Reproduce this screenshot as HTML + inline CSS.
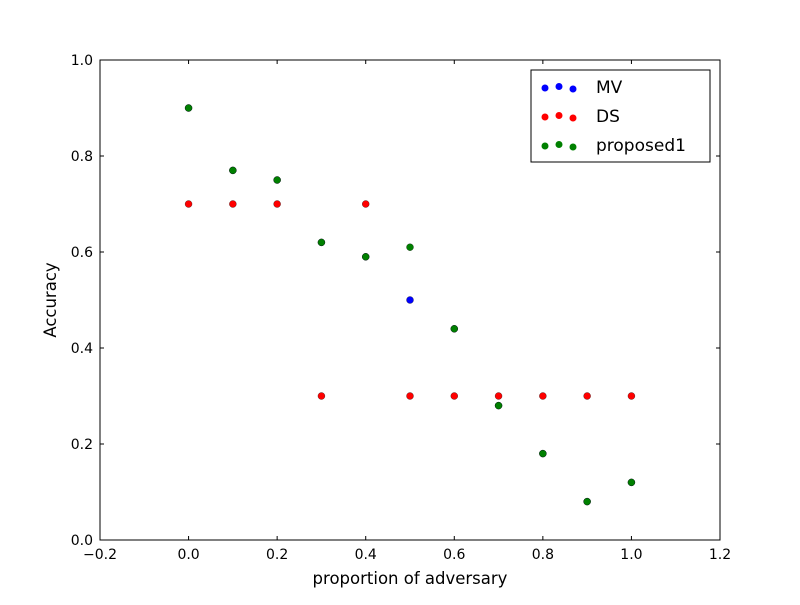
<!DOCTYPE html>
<html><head><meta charset="utf-8"><style>
body{margin:0;background:#fff}
text{font-family:"DejaVu Sans","Liberation Sans",sans-serif;fill:#000}
</style></head><body>
<svg id="chart" width="800" height="600" xmlns="http://www.w3.org/2000/svg">
<rect width="800" height="600" fill="#fff"/>
<g id="plot"></g>
</svg>
<script>
const xValues=[0,0.1,0.2,0.3,0.4,0.5,0.6,0.7,0.8,0.9,1.0];
const mvValues=[0.9,0.77,0.75,0.62,0.59,0.5,0.44,0.28,0.18,0.08,0.12];
const dsValues=[0.7,0.7,0.7,0.3,0.7,0.3,0.3,0.3,0.3,0.3,0.3];
const proposedValues=[0.9,0.77,0.75,0.62,0.59,0.61,0.44,0.28,0.18,0.08,0.12];
const xTicks=[-0.2,0,0.2,0.4,0.6,0.8,1.0,1.2];
const yTicks=[0,0.2,0.4,0.6,0.8,1.0];
const seriesNames=["MV","DS","proposed1"];
const seriesColors=["#0000ff","#ff0000","#008000"];

const L=100,R=720,T=60,B=540;
const sx=v=>L+(v+0.2)/1.4*(R-L);
const sy=v=>B-v*(B-T);
const ns="http://www.w3.org/2000/svg";
const g=document.getElementById('plot');
function mk(tag,attrs,parent){const e=document.createElementNS(ns,tag);for(const k in attrs)e.setAttribute(k,attrs[k]);(parent||g).appendChild(e);return e;}

[mvValues,dsValues,proposedValues].forEach((vals,si)=>{
  vals.forEach((v,i)=>{
    const c=mk('circle',{cx:sx(xValues[i]),cy:sy(v),r:3.5,fill:seriesColors[si],stroke:'#000','stroke-width':0.3});
    
    
  });
});

const frame=mk('rect',{x:L,y:T,width:R-L,height:B-T,fill:'none',stroke:'#000','stroke-width':1});



xTicks.forEach(t=>{
  const x=sx(t);
  mk('line',{x1:x,y1:B,x2:x,y2:B-4,stroke:'#000'});
  mk('line',{x1:x,y1:T,x2:x,y2:T+4,stroke:'#000'});
  const tx=mk('text',{x:x,y:B+19,'text-anchor':'middle','font-size':14});
  tx.textContent=t.toFixed(1).replace('-','\u2212');
  
  
});
yTicks.forEach(t=>{
  const y=sy(t);
  mk('line',{x1:L,y1:y,x2:L+4,y2:y,stroke:'#000'});
  mk('line',{x1:R,y1:y,x2:R-4,y2:y,stroke:'#000'});
  const tx=mk('text',{x:L-7,y:y+5,'text-anchor':'end','font-size':14});
  tx.textContent=t.toFixed(1);
  
  
});

const xl=mk('text',{x:410,y:584,'text-anchor':'middle','font-size':16.5});
xl.textContent='proportion of adversary';


const yl=mk('text',{x:56,y:300,'text-anchor':'middle','font-size':16.5,transform:'rotate(-90 56 300)'});
yl.textContent='Accuracy';



const lg=mk('g',{});


mk('rect',{x:531,y:70,width:179,height:92,fill:'#fff',stroke:'#000'},lg);
seriesNames.forEach((n,i)=>{
  const y=88+i*29;
  const e=mk('g',{},lg);
  
  
  [[545,0],[559,-1.5],[573,1]].forEach(p=>mk('circle',{cx:p[0],cy:y+p[1],r:3.5,fill:seriesColors[i]},e));
  const t=mk('text',{x:596,y:y+5,'font-size':17},e);
  t.textContent=n;
});
</script>
</body></html>
